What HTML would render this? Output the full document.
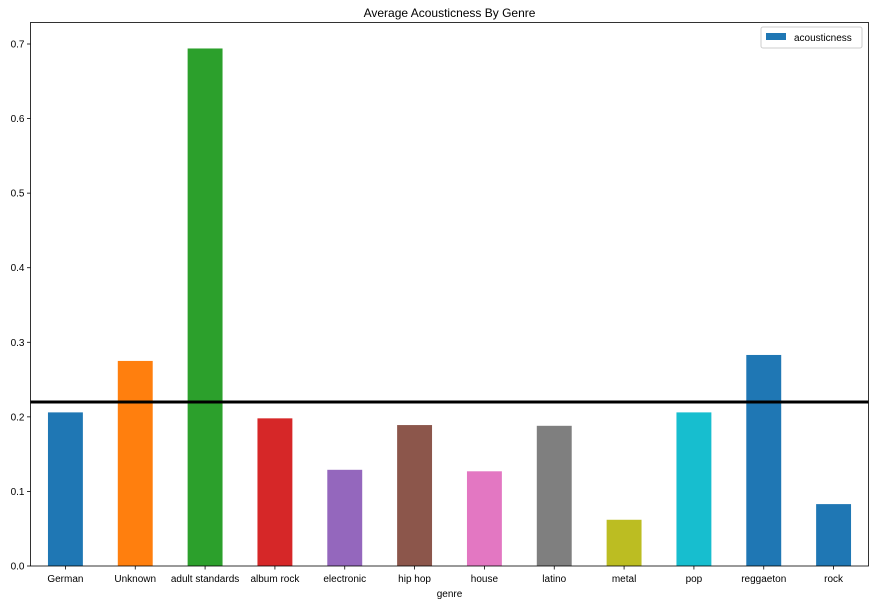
<!DOCTYPE html>
<html><head><meta charset="utf-8"><style>
body{margin:0;background:#fff;}
svg{display:block;font-family:"Liberation Sans","DejaVu Sans",sans-serif;}
</style></head><body>
<svg id="chart" width="877" height="604"></svg>
<script>
const categories=["German","Unknown","adult standards","album rock","electronic","hip hop","house","latino","metal","pop","reggaeton","rock"];
const values=[0.206,0.275,0.694,0.198,0.129,0.189,0.127,0.188,0.062,0.206,0.283,0.083];
const meanValue=0.22;
const yTicks=[0.0,0.1,0.2,0.3,0.4,0.5,0.6,0.7];
const colors=["#1f77b4","#ff7f0e","#2ca02c","#d62728","#9467bd","#8c564b","#e377c2","#7f7f7f","#bcbd22","#17becf","#1f77b4","#1f77b4"];
const NS="http://www.w3.org/2000/svg";
const svg=document.getElementById('chart');
const L=30.5,R=868.5,T=22.5,B=566;
const y=v=>B-v/0.7*(B-44);
const step=(R-L)/categories.length;
const x=i=>L+step*(i+0.5);
function mk(tag,attrs,txt){const e=document.createElementNS(NS,tag);for(const k in attrs)e.setAttribute(k,attrs[k]);if(txt!==undefined)e.textContent=txt;svg.appendChild(e);return e;}
values.forEach((v,i)=>{
 const r=mk('rect',{x:x(i)-step/4,y:y(v),width:step/2,height:B-y(v),fill:colors[i]});
 
 
 const t=mk('line',{x1:x(i),x2:x(i),y1:B,y2:B+3.5,stroke:'#000','stroke-width':0.8});
 
 
 const lb=mk('text',{x:x(i),y:B+16,'text-anchor':'middle','font-size':10,fill:'#000'},categories[i]);
 
 
});
yTicks.forEach(v=>{
 const t=mk('line',{x1:L-3.5,x2:L,y1:y(v),y2:y(v),stroke:'#000','stroke-width':0.8});
 
 
 const lb=mk('text',{x:L-6,y:y(v)+3.5,'text-anchor':'end','font-size':10,fill:'#000'},v.toFixed(1));
 
 
});
const m=mk('line',{x1:L,x2:R,y1:y(meanValue),y2:y(meanValue),stroke:'#000','stroke-width':3});


const fr=mk('rect',{x:L,y:T,width:R-L,height:B-T,fill:'none',stroke:'#000','stroke-width':0.8});


const ti=mk('text',{x:(L+R)/2,y:17,'text-anchor':'middle','font-size':12,fill:'#000'},'Average Acousticness By Genre');


const xl=mk('text',{x:(L+R)/2,y:597,'text-anchor':'middle','font-size':10,fill:'#000'},'genre');


const lg=mk('rect',{x:761,y:27,width:101,height:21,rx:2,fill:'#fff',stroke:'#ccc','stroke-width':1});


const ls=mk('rect',{x:766,y:33,width:20,height:7,fill:'#1f77b4'});


const lt=mk('text',{x:794,y:41,'font-size':10,fill:'#000'},'acousticness');


</script>
</body></html>
